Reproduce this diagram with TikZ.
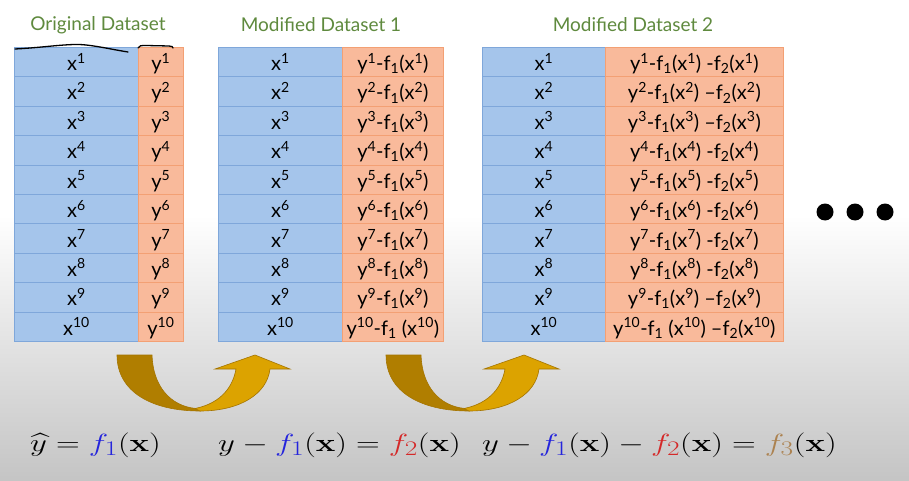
\documentclass[tikz,border=0pt]{standalone}
\usepackage[no-math]{fontspec}
\usepackage{amsmath}
\newfontfamily\cellfont{Lato}
\definecolor{bluefill}{HTML}{A5C5EB}
\definecolor{bluebd}{HTML}{7FA7DA}
\definecolor{orfill}{HTML}{F9BA9B}
\definecolor{orbd}{HTML}{F3A074}
\definecolor{titlegreen}{HTML}{5F8A3E}
\definecolor{golddark}{HTML}{B07E00}
\definecolor{goldlight}{HTML}{DCA300}
\definecolor{goldline}{HTML}{A47400}
\definecolor{fblue}{HTML}{2424DC}
\definecolor{fred}{HTML}{D42828}
\definecolor{fbrown}{HTML}{AC8250}
\newcommand\xsup[1]{x\textsuperscript{#1}}
\newcommand\ysup[1]{y\textsuperscript{#1}}
\newcommand\fsub[1]{f\textsubscript{#1}}
\newcommand\stretchx[1]{\scalebox{1.32}[1]{#1}}
\begin{document}
\begin{tikzpicture}[x=1pt,y=-1pt,
  cellbase/.style={line width=0.8pt, inner sep=0pt, anchor=north west,
    minimum height=29.4pt, text height=17.5pt, text depth=0.5pt,
    font=\cellfont\fontsize{20}{20}\selectfont},
  xcell/.style={cellbase, draw=bluebd, fill=bluefill},
  ycell/.style={cellbase, draw=orbd, fill=orfill},
  title/.style={font=\cellfont\fontsize{19}{19}\selectfont, text=titlegreen, inner sep=0pt},
  formula/.style={font=\fontsize{30}{36}\selectfont, anchor=base west, inner sep=0pt},
  dot/.style={circle, fill=black, minimum size=17pt, inner sep=0pt},
  darkpart/.style={fill=golddark, draw=goldline, line width=0.6pt},
  lightpart/.style={fill=goldlight, draw=goldline, line width=0.6pt},
  hand/.style={line width=1.3pt, line cap=round, line join=round}
]
\useasboundingbox (0,0) rectangle (909,481);
\fill[white] (0,0) rectangle (909,481);
\shade[top color=white, bottom color=black!23] (0,215) rectangle (909,481);

% titles
\node[title] (t0) at (98,25) {Original Dataset};
\node[title] (t1) at (321,25) {Modified Dataset 1};
\node[title] (t2) at (633,25) {Modified Dataset 2};

% table 1
\foreach \i in {1,...,10}{
  \node[xcell, minimum width=124pt] (o-x-\i) at (14,{47+(\i-1)*29.4}) {\xsup{\i}};
  \node[ycell, minimum width=45pt] (o-y-\i) at (138,{47+(\i-1)*29.4}) {\ysup{\i}};
}
% table 2
\foreach \i in {1,...,9}{
  \node[xcell, minimum width=124pt] (m-x-\i) at (218,{47+(\i-1)*29.4}) {\xsup{\i}};
  \node[ycell, minimum width=101pt] (m-y-\i) at (342,{47+(\i-1)*29.4}) {\ysup{\i}-\fsub{1}(\xsup{\i})};
}
\node[xcell, minimum width=124pt] (m-x-10) at (218,{47+9*29.4}) {\xsup{10}};
\node[ycell, minimum width=101pt] (m-y-10) at (342,{47+9*29.4}) {\ysup{10}-\fsub{1} (\xsup{10})};
% table 3
\foreach \i/\d in {1/-,2/\textendash,3/\textendash,4/-,5/-,6/-,7/-,8/-,9/\textendash}{
  \node[xcell, minimum width=123pt] (n-x-\i) at (482,{47+(\i-1)*29.4}) {\xsup{\i}};
  \node[ycell, minimum width=178pt] (n-y-\i) at (605,{47+(\i-1)*29.4}) {\ysup{\i}-\fsub{1}(\xsup{\i}) \d\fsub{2}(\xsup{\i})};
}
\node[xcell, minimum width=123pt] (n-x-10) at (482,{47+9*29.4}) {\xsup{10}};
\node[ycell, minimum width=178pt] (n-y-10) at (605,{47+9*29.4}) {\ysup{10}-\fsub{1} (\xsup{10}) \textendash\fsub{2}(\xsup{10})};

% hand-drawn marks
\draw[hand] (15,49) .. controls (45,47.5) and (70,43) .. (86,45) .. controls (100,46.5) and (115,50) .. (128,52);
\draw[hand] (138,48) .. controls (139,45.5) and (141,45.5) .. (146,45.5) -- (169,46) .. controls (172,46) and (173,47) .. (173,48);

% dots
\node[dot] (d1) at (825,212) {};
\node[dot] (d2) at (855,212) {};
\node[dot] (d3) at (885,212) {};

% u-turn arrows
\foreach \s in {0,269}{
\begin{scope}[xshift=\s]
\path[darkpart] (117,355) -- (152,355) .. controls (153,386) and (170,406) .. (196,408.5)
  -- (200,411) .. controls (152,411) and (117,392) .. (117,355) -- cycle;
\path[lightpart] (195,408.5) .. controls (222,403) and (233,386) .. (236,369) -- (215,369) -- (255,355)
  -- (290,369) -- (270,369) .. controls (267,394) and (240,411) .. (200,411) -- cycle;
\end{scope}
}

% formulas
\node[formula] (e1) at (30,451) {\stretchx{$\widehat{y} = \textcolor{fblue}{f_1}(\mathbf{x})$}};
\node[formula] (e2) at (218,451) {\stretchx{$y - \textcolor{fblue}{f_1}(\mathbf{x}) = \textcolor{fred}{f_2}(\mathbf{x})$}};
\node[formula] (e3) at (482,451) {\stretchx{$y - \textcolor{fblue}{f_1}(\mathbf{x}) - \textcolor{fred}{f_2}(\mathbf{x}) = \textcolor{fbrown}{f_3}(\mathbf{x})$}};
\end{tikzpicture}
\end{document}
